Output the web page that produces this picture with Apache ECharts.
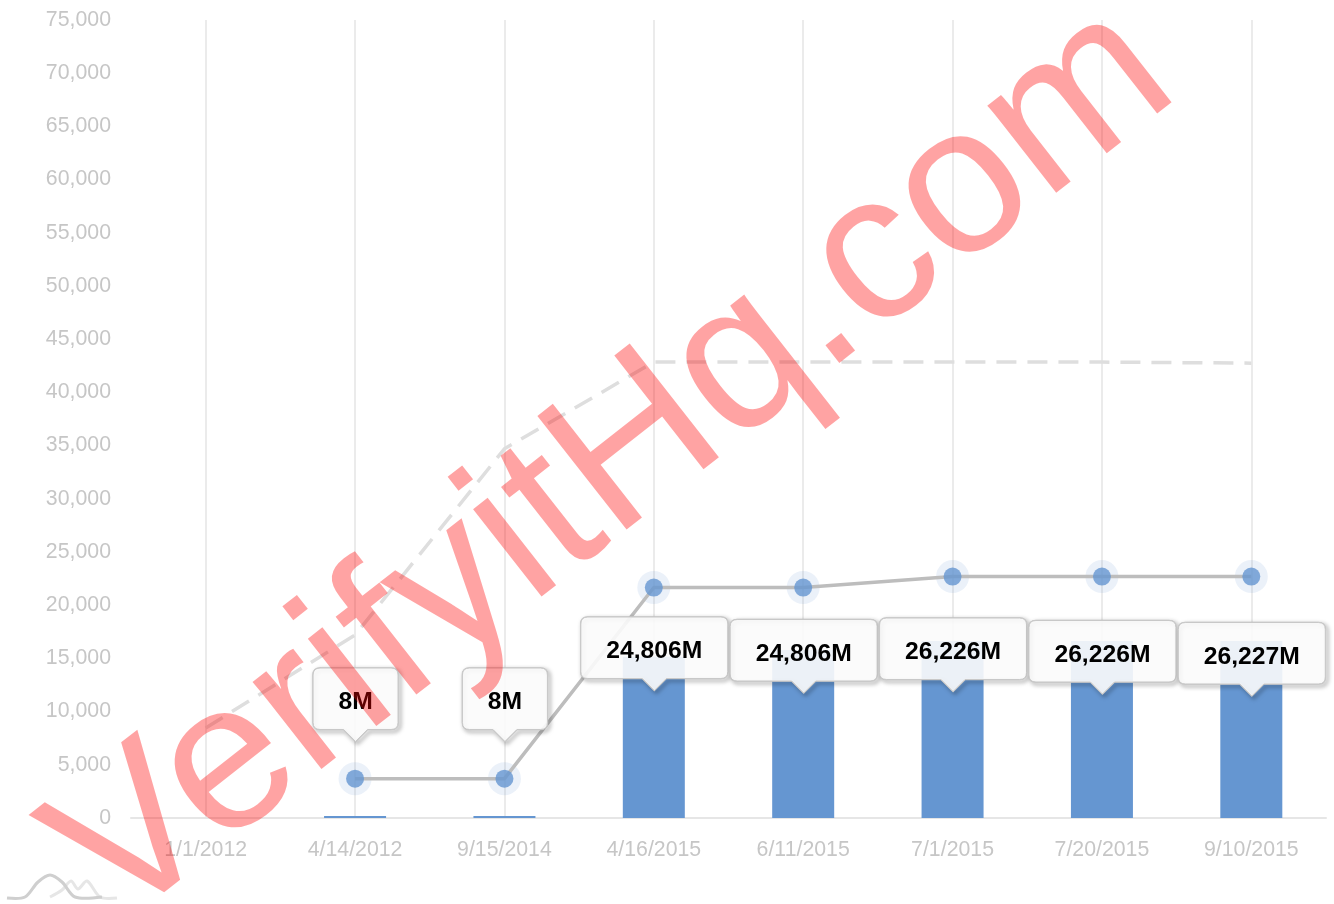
<!DOCTYPE html>
<html>
<head>
<meta charset="utf-8">
<title>Chart</title>
<style>
  html, body { margin: 0; padding: 0; background: #fff; }
  #chart { width: 1334px; height: 904px; }
</style>
<script src="https://cdn.jsdelivr.net/npm/echarts@6/dist/echarts.min.js"></script>
</head>
<body>
<div id="chart"></div>
<script>
var categories = ['1/1/2012', '4/14/2012', '9/15/2014', '4/16/2015', '6/11/2015', '7/1/2015', '7/20/2015', '9/10/2015'];
var yTicks = [0, 5000, 10000, 15000, 20000, 25000, 30000, 35000, 40000, 45000, 50000, 55000, 60000, 65000, 70000, 75000];
// bar heights as they read on the left axis
var barValues = [null, 8, 8, 15150, 15800, 16640, 16640, 16640];
var lineValues = [null, 3700, 3700, 21660, 21660, 22690, 22690, 22690];
var dashedValues = [8460, 17200, 34700, 42850, 42850, 42850, 42850, 42750];
var balloonLabels = [null, '8M', '8M', '24,806M', '24,806M', '26,226M', '26,226M', '26,227M'];

// balloons top edge, in px
var balloonTops = [0, 668, 668, 617, 619.5, 618, 620.5, 622.5];
var fontName = 'Liberation Sans';
var axisColor = '#c6c6c6';

function balloonPath(x, w, top, h, tip) {
  var r = 7;
  var l = x - w / 2, rt = x + w / 2, b = top + h;
  return 'M' + (l + r) + ' ' + top +
    'L' + (rt - r) + ' ' + top + 'Q' + rt + ' ' + top + ' ' + rt + ' ' + (top + r) +
    'L' + rt + ' ' + (b - r) + 'Q' + rt + ' ' + b + ' ' + (rt - r) + ' ' + b +
    'L' + (x + 12) + ' ' + b + 'L' + x + ' ' + tip + 'L' + (x - 12) + ' ' + b +
    'L' + (l + r) + ' ' + b + 'Q' + l + ' ' + b + ' ' + l + ' ' + (b - r) +
    'L' + l + ' ' + (top + r) + 'Q' + l + ' ' + top + ' ' + (l + r) + ' ' + top + 'Z';
}

function renderBalloon(params, api) {
  var idx = api.value(0);
  var label = balloonLabels[idx];
  if (!label) return;
  var x = api.coord([idx, 0])[0] + 0.5;
  var w = label.length > 3 ? 147 : 85;
  var h = 61.5;
  var top = balloonTops[idx];
  var tip = top + h + 12;
  var shape = { pathData: balloonPath(x, w, top, h, tip), layout: 'cover', x: x - w / 2, y: top, width: w, height: tip - top };
  return {
    type: 'group',
    children: [{
      // shadow only comes from the outline, so it does not grey the see-through fill
      type: 'path',
      shape: shape,
      style: {
        fill: null,
        stroke: '#c4c4c4',
        lineWidth: 1.5,
        shadowBlur: 4,
        shadowOffsetX: 2,
        shadowOffsetY: 2,
        shadowColor: 'rgba(0,0,0,0.6)'
      }
    }, {
      type: 'path',
      shape: shape,
      style: { fill: 'rgba(251,251,251,0.9)', stroke: '#c8c8c8', lineWidth: 1 }
    }, {
      type: 'text',
      style: {
        x: x,
        y: top + h / 2 + 3.5,
        text: label,
        align: 'center',
        verticalAlign: 'middle',
        fill: '#000',
        fontFamily: fontName,
        fontWeight: 'bold',
        fontSize: 24.7
      }
    }]
  };
}

var myChart = echarts.init(document.getElementById('chart'), null, { renderer: 'canvas' });

myChart.setOption({
  animation: false,
  backgroundColor: '#fff',
  grid: { left: 131, right: 8, top: 20, bottom: 86 },
  xAxis: {
    type: 'category',
    data: categories,
    axisLine: { lineStyle: { color: '#e6e6e6', width: 2 } },
    axisTick: { show: false },
    axisLabel: { color: axisColor, fontFamily: fontName, fontSize: 21.3, margin: 22, interval: 0 },
    splitLine: { show: true, alignWithLabel: true, interval: 0, lineStyle: { color: '#ebebeb', width: 2 } }
  },
  yAxis: {
    type: 'value',
    min: yTicks[0],
    max: yTicks[yTicks.length - 1],
    interval: yTicks[1] - yTicks[0],
    axisLine: { show: false },
    axisTick: { show: false },
    splitLine: { show: false },
    axisLabel: {
      color: axisColor,
      fontFamily: fontName,
      fontSize: 21.3,
      margin: 20,
      formatter: function (v) { return echarts.format.addCommas(v); }
    }
  },
  series: [{
    type: 'bar',
    data: barValues,
    barWidth: 62,
    barMinHeight: 2,
    itemStyle: { color: '#6596d1' },
    z: 2
  }, {
    type: 'line',
    data: dashedValues,
    symbol: 'none',
    lineStyle: { color: '#dedede', width: 3.5, type: [20, 11] },
    z: 3
  }, {
    type: 'scatter',
    data: lineValues,
    symbolSize: 33,
    itemStyle: { color: 'rgba(101,150,209,0.16)' },
    z: 3
  }, {
    type: 'line',
    data: lineValues,
    symbol: 'circle',
    symbolSize: 18,
    showAllSymbol: true,
    lineStyle: { color: '#bdbdbd', width: 3.5 },
    itemStyle: { color: 'rgba(101,150,209,0.8)' },
    z: 4
  }, {
    type: 'custom',
    data: categories.map(function (c, i) { return [i]; }),
    encode: { x: 0, y: -1 },
    renderItem: renderBalloon,
    clip: false,
    z: 6
  }],
  graphic: [{
    type: 'text',
    x: 614,
    y: 466,
    rotation: 0.665,
    z: 100,
    silent: true,
    style: {
      text: 'VerifyitHq.com',
      fontFamily: fontName,
      fontSize: 210,
      fill: 'rgba(255,0,0,0.36)',
      textAlign: 'center',
      textVerticalAlign: 'middle'
    }
  }, {
    type: 'polyline',
    z: 50,
    silent: true,
    shape: { points: [[7, 898], [25, 897], [38, 882], [50, 875], [62, 882], [75, 897], [102, 897]], smooth: 0.3 },
    style: { fill: null, stroke: '#cfcfcf', lineWidth: 3 }
  }, {
    type: 'polyline',
    z: 49,
    silent: true,
    shape: { points: [[50, 897], [62, 890], [71, 881], [78, 889], [87, 881], [100, 897], [117, 898]], smooth: 0.3 },
    style: { fill: null, stroke: '#e6e6e6', lineWidth: 3 }
  }]
});
</script>
</body>
</html>
